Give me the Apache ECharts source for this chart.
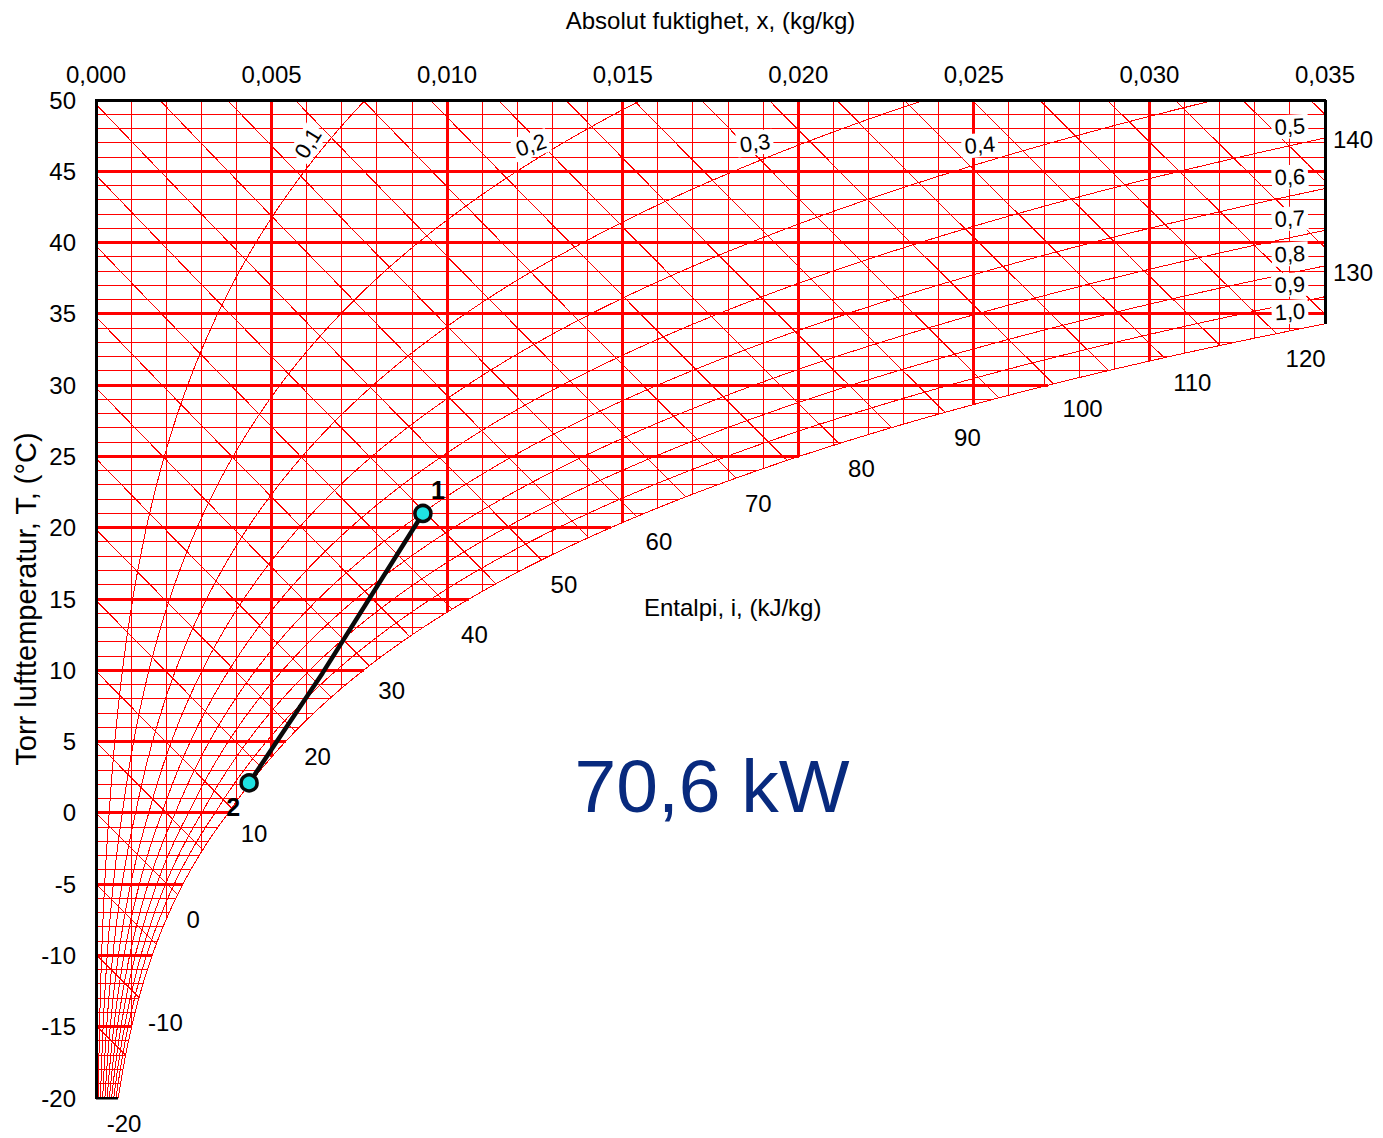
<!DOCTYPE html>
<html><head><meta charset="utf-8">
<script src="https://cdn.jsdelivr.net/npm/echarts/dist/echarts.min.js"></script>
<style>
html,body{margin:0;padding:0;background:#fff}
#c{width:1383px;height:1138px}
#c path[stroke="#ff0000"], #c path[stroke="rgb(255,0,0)"], #c path[stroke="#000000"], #c path[stroke="rgb(0,0,0)"]{shape-rendering:crispEdges}
</style>
</head><body><div id="c"></div>
<script>
// ---------- data ----------
const X_MIN = 0, X_MAX = 0.035, X_STEP = 0.005, X_MINOR = 0.001;
const T_MIN = -20, T_MAX = 50, T_STEP = 5;
const P_ATM = 101325;
const ENTHALPY_LINES = [-20,-15,-10,-5,0,5,10,15,20,25,30,35,40,45,50,55,60,65,70,75,80,85,90,95,100,105,110,115,120,125,130,135,140];
const ENTHALPY_LABELS = [-20,-10,0,10,20,30,40,50,60,70,80,90,100,110,120,130,140];
const RH_CURVES = [0.1,0.2,0.3,0.4,0.5,0.6,0.7,0.8,0.9];
const RH_TOP_LABELS = [0.1,0.2,0.3,0.4];
const RH_TOP_ROTATE = [58,18,8,5];
const RH_SIDE_LABELS = [0.5,0.6,0.7,0.8,0.9,1.0];
const PROCESS_X = [0.00436, 0.00645, 0.00931];
const PROCESS_T = [2.1, 9.8, 21.0];
const POINT_NAMES = ['2', '', '1'];
const X_AXIS_NAME = 'Absolut fuktighet, x, (kg/kg)';
const Y_AXIS_NAME = 'Torr lufttemperatur, T, (°C)';
const ENTHALPY_NAME = 'Entalpi, i, (kJ/kg)';
const RESULT_TEXT = '70,6 kW';

// ---------- psychrometrics ----------
function psat(T){ return T >= 0 ? 611.2*Math.exp(17.62*T/(243.12+T)) : 611.2*Math.exp(22.46*T/(272.62+T)); }
function xOf(T, phi){ const p = phi*psat(T); return 0.622*p/(P_ATM-p); }
function tAt(x, phi){ let lo=-70, hi=70; for(let i=0;i<60;i++){ const m=(lo+hi)/2; if(xOf(m,phi)<x) lo=m; else hi=m; } return (lo+hi)/2; }
function tOfHX(h, x){ return (h-2501*x)/(1.006+1.86*x); }
const fmt = v => v.toFixed(1).replace('.', ',');

const RED = '#ff0000';
const series = [];
function addLine(pts, width, z, color){
  series.push({type:'line', data:pts, symbol:'none', showSymbol:false, silent:true, z:z, animation:false,
    lineStyle:{color:color||RED, width:width, opacity:1}, itemStyle:{color:color||RED}, emphasis:{disabled:true}});
}

// horizontal lines (dry-bulb temperature)
for(let T=T_MIN+1; T<T_MAX; T++){
  const xe = Math.min(xOf(T,1), X_MAX);
  const thick = T % T_STEP === 0;
  addLine([[0,T],[xe,T]], thick?3:1, thick?2:1);
}
// vertical lines (absolute humidity)
const nMinor = Math.round(X_MAX/X_MINOR);
for(let k=1; k<nMinor; k++){
  const x = k*X_MINOR;
  const tb = Math.max(tAt(x,1), T_MIN);
  const thick = k % 5 === 0;
  addLine([[x,tb],[x,T_MAX]], thick?3:1, thick?2:1);
}
// enthalpy lines
const hLabelData=[];
ENTHALPY_LINES.forEach(h=>{
  const xs = Math.max(0, (h-1.006*T_MAX)/(2501+1.86*T_MAX));
  if (xs >= X_MAX) return;
  const f = x => tOfHX(h,x) - Math.max(tAt(x,1), T_MIN);
  if (f(xs) <= 0) return;
  let xe;
  if (f(X_MAX) > 0) xe = X_MAX;
  else { let lo=xs, hi=X_MAX; for(let i=0;i<60;i++){ const m=(lo+hi)/2; if(f(m)>0) lo=m; else hi=m; } xe=(lo+hi)/2; }
  const pts=[]; const n=12;
  for(let i=0;i<=n;i++){ const x = xs+(xe-xs)*i/n; pts.push([x, tOfHX(h,x)]); }
  addLine(pts, 1, 1);
  if (ENTHALPY_LABELS.includes(h)) {
    hLabelData.push({value:[xe, tOfHX(h,xe)], label:{formatter:String(h), offset: xe>=X_MAX-1e-9 ? [8,25] : [9,25]}});
  }
});
// relative humidity curves
function rhCurve(phi){
  const pts=[];
  for(let T=T_MIN; T<=T_MAX+1e-9; T+=0.25){
    const x = xOf(T,phi);
    if (x > X_MAX){ pts.push([X_MAX, tAt(X_MAX,phi)]); break; }
    pts.push([x,T]);
  }
  return pts;
}
RH_CURVES.forEach(p=>addLine(rhCurve(p), 1, 1));
addLine(rhCurve(1), 1, 1);

const rhLabelData = [];
const TOP_OFFSETS = [[16.7,-12.8],[8.5,-17.2],[7.2,-20.2],[3.8,-18.7]];
RH_TOP_LABELS.forEach((p,i)=>{
  rhLabelData.push({value:[xOf(45.5,p),45.5], label:{formatter:fmt(p), rotate:RH_TOP_ROTATE[i], offset:TOP_OFFSETS[i]}});
});
RH_SIDE_LABELS.forEach(p=>{
  rhLabelData.push({value:[0.034, tAt(0.034,p)], label:{formatter:fmt(p), rotate:3, offset:[1,-19]}});
});
// border
addLine([[xOf(T_MIN,1),T_MIN],[0,T_MIN],[0,T_MAX],[X_MAX,T_MAX],[X_MAX,tAt(X_MAX,1)]], 3, 3, '#000000');

const processData = PROCESS_X.map((x,i)=>{
  const d = {value:[x, PROCESS_T[i]]};
  if (!POINT_NAMES[i]) { d.symbol='none'; }
  else d.label = {show:true, formatter:POINT_NAMES[i], offset: i===0 ? [-16,24] : [15,-23]};
  return d;
});

const FONT = 'Liberation Sans, Arial, sans-serif';
series.push(
  {type:'scatter', symbol:'circle', symbolSize:1, itemStyle:{color:'rgba(0,0,0,0)', opacity:1}, z:5, silent:true,
    data:hLabelData,
    label:{show:true, position:'inside', align:'left', verticalAlign:'middle', fontSize:24, color:'#000', opacity:1, fontFamily:FONT}},
  {type:'scatter', symbol:'circle', symbolSize:1, itemStyle:{color:'rgba(0,0,0,0)', opacity:1}, z:5, silent:true,
    data:rhLabelData,
    label:{show:true, position:'inside', align:'center', verticalAlign:'middle', fontSize:22, color:'#000', opacity:1, fontFamily:FONT,
      backgroundColor:'#ffffff', padding:[1,3]}},
  {type:'line', data:processData, smooth:false, z:6, silent:true,
    lineStyle:{color:'#0a0a0a', width:4.5},
    symbol:'circle', symbolSize:16, showSymbol:true,
    itemStyle:{color:'#1fe3e3', borderColor:'#0a0a0a', borderWidth:3.5, opacity:1},
    label:{show:false, fontSize:25, fontWeight:'bold', color:'#000', fontFamily:FONT, position:'inside'}}
);

const chart = echarts.init(document.getElementById('c'), null, {renderer:'svg'});
chart.setOption({
  animation:false,
  backgroundColor:'#ffffff',
  grid:{left:96, right:58, top:100, bottom:40, outerBoundsMode:'none', containLabel:false},
  xAxis:{type:'value', position:'top', min:X_MIN, max:X_MAX, interval:X_STEP,
    name:X_AXIS_NAME, nameLocation:'middle', nameGap:68,
    nameTextStyle:{fontSize:24, color:'#000', fontFamily:FONT},
    axisLine:{show:false}, axisTick:{show:false}, splitLine:{show:false},
    axisLabel:{fontSize:24, color:'#000', fontFamily:FONT, margin:14, formatter:v=>v.toFixed(3).replace('.',',')}},
  yAxis:{type:'value', min:T_MIN, max:T_MAX, interval:T_STEP,
    name:Y_AXIS_NAME, nameLocation:'middle', nameGap:56, nameMoveOverlap:false,
    nameTextStyle:{fontSize:29, color:'#000', fontFamily:FONT},
    axisLine:{show:false}, axisTick:{show:false}, splitLine:{show:false},
    axisLabel:{fontSize:24, color:'#000', fontFamily:FONT, margin:20}},
  series:series,
  graphic:[
    {type:'text', x:644, y:607, style:{text:ENTHALPY_NAME, font:'24px '+FONT, fill:'#000', align:'left', verticalAlign:'middle'}},
    {type:'text', x:712, y:786, style:{text:RESULT_TEXT, font:'75px '+FONT, fill:'#082a7e', align:'center', verticalAlign:'middle'}}
  ]
});
</script></body></html>
